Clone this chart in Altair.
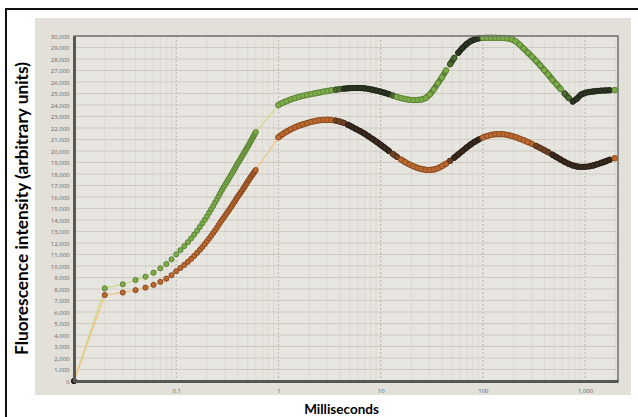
import altair as alt
import pandas as pd

# ---- sampling times (ms) ----
t_origin = [0.01]
t_ramp = [0.02, 0.03, 0.04, 0.05, 0.06, 0.07, 0.08, 0.09, 0.10,
          0.11, 0.12, 0.13, 0.14, 0.15, 0.16, 0.17, 0.18,
          0.19, 0.20, 0.21, 0.22, 0.23, 0.24, 0.25, 0.26, 0.27, 0.28,
          0.29, 0.30, 0.31, 0.32, 0.33, 0.34, 0.35, 0.36, 0.37, 0.38, 0.39, 0.40,
          0.41, 0.42, 0.43, 0.44, 0.45, 0.46, 0.47, 0.48, 0.49, 0.50,
          0.51, 0.52, 0.53, 0.54, 0.55, 0.56, 0.57, 0.58, 0.59, 0.60]
t_dense = [1.0, 1.096, 1.202, 1.318, 1.445, 1.585, 1.738, 1.905, 2.089, 2.291,
           2.512, 2.754, 3.02, 3.311, 3.631, 3.981, 4.365, 4.786, 5.248, 5.754,
           6.31, 6.918, 7.586, 8.318, 9.12, 10.0, 10.96, 12.02, 13.18, 14.45,
           15.85, 17.38, 19.05, 20.89, 22.91, 25.12, 27.54, 30.2, 33.11, 36.31,
           39.81, 43.65, 47.86, 52.48, 57.54, 63.1, 69.18, 75.86, 83.18, 91.2,
           100.0, 109.6, 120.2, 131.8, 144.5, 158.5, 173.8, 190.5, 208.9, 229.1,
           251.2, 275.4, 302.0, 331.1, 363.1, 398.1, 436.5, 478.6, 524.8, 575.4,
           631.0, 691.8, 758.6, 831.8, 912.0, 1000.0, 1096.0, 1202.0, 1318.0, 1445.0,
           1585.0, 1738.0, 1950.0]

# ---- fluorescence intensity (arbitrary units) ----
origin_value = [0]
green_ramp = [8060, 8410, 8780, 9070, 9420, 9800, 10170, 10580, 11020,
              11380, 11730, 12070, 12400, 12730, 13060, 13390, 13710,
              14020, 14330, 14640, 14940, 15230, 15520, 15800, 16070, 16340, 16610,
              16830, 17040, 17250, 17450, 17650, 17840, 18030, 18220, 18400, 18580, 18760, 18930,
              19080, 19230, 19380, 19530, 19680, 19820, 19960, 20100, 20240, 20370,
              20500, 20630, 20760, 20890, 21020, 21150, 21280, 21400, 21520, 21650]
orange_ramp = [7480, 7690, 7900, 8120, 8360, 8620, 8900, 9200, 9550,
               9830, 10100, 10360, 10620, 10880, 11140, 11400, 11650,
               11900, 12150, 12390, 12630, 12870, 13100, 13330, 13560, 13780, 14000,
               14180, 14360, 14540, 14720, 14890, 15060, 15230, 15400, 15560, 15720, 15880, 16030,
               16160, 16290, 16420, 16550, 16680, 16810, 16940, 17070, 17200, 17330,
               17440, 17550, 17660, 17770, 17870, 17970, 18070, 18170, 18260, 18350]
green_dense = [24000, 24180, 24340, 24480, 24600, 24710, 24800, 24880, 24950, 25020,
               25090, 25160, 25220, 25280, 25330, 25380, 25420, 25450, 25470, 25480,
               25470, 25450, 25400, 25330, 25250, 25160, 25060, 24950, 24820, 24700,
               24600, 24520, 24460, 24430, 24430, 24480, 24600, 24900, 25350, 25900,
               26400, 27000, 27550, 28100, 28550, 28950, 29300, 29550, 29700, 29800,
               29830, 29840, 29840, 29840, 29830, 29820, 29800, 29720, 29550, 29250,
               28900, 28550, 28200, 27850, 27450, 27050, 26650, 26200, 25800, 25400,
               25000, 24600, 24300, 24550, 24900, 25050, 25130, 25180, 25220, 25250,
               25270, 25290, 25300]
orange_dense = [21200, 21450, 21680, 21880, 22050, 22200, 22320, 22430, 22530, 22610,
                22670, 22700, 22710, 22690, 22640, 22560, 22440, 22280, 22100, 21910,
                21720, 21520, 21290, 21050, 20800, 20540, 20280, 20010, 19740, 19490,
                19250, 19030, 18840, 18670, 18530, 18430, 18370, 18350, 18390, 18500,
                18680, 18900, 19150, 19420, 19710, 20000, 20290, 20560, 20800, 21000,
                21170, 21300, 21400, 21460, 21480, 21460, 21400, 21310, 21200, 21070,
                20930, 20780, 20620, 20450, 20270, 20080, 19890, 19680, 19470, 19260,
                19060, 18880, 18740, 18650, 18610, 18620, 18660, 18740, 18850, 18970,
                19100, 19240, 19370]

# time spans (ms) where each trace is shaded darker: (start, end, level)
green_shade = [(0.009, 0.011, 2), (3.6, 4.3, 1), (4.3, 12.5, 2), (12.5, 13.5, 1),
               (47, 55, 1), (55, 92, 2), (600, 700, 1), (700, 1900, 2)]
orange_shade = [(0.009, 0.011, 2), (3.6, 4.6, 1), (4.6, 13.0, 2), (13.0, 14.5, 1),
                (45, 52, 1), (52, 92, 2), (330, 450, 1), (450, 1900, 2)]

# axis ticks
y_ticks = list(range(0, 30001, 1000))
x_major = [0.1, 1, 10, 100, 1000]
x_minor = [m * 10 ** e for e in range(-2, 4) for m in range(2, 10) if m * 10 ** e <= 2100]


def shade_level(t, spans):
    for a, b, lvl in spans:
        if a <= t <= b:
            return lvl
    return 0


rows = []
times = t_origin + t_ramp + t_dense
for name, vals, spans in [("green", origin_value + green_ramp + green_dense, green_shade),
                          ("orange", origin_value + orange_ramp + orange_dense, orange_shade)]:
    run, prev = 0, None
    for t, v in zip(times, vals):
        tone = f"{name}{shade_level(t, spans)}"
        if tone != prev:
            run += 1
            prev = tone
        rows.append({"t": t, "v": v, "series": name, "tone": tone, "run": f"{name}-{run}"})
df = pd.DataFrame(rows)

tone_keys = ["green0", "green1", "green2", "orange0", "orange1", "orange2"]
tone_fill = ["#7dad48", "#4d6b30", "#2c3522", "#bb692e", "#6f4426", "#3a2a1e"]
tone_edge = ["#5a8236", "#364d22", "#1e2418", "#8a4a20", "#50301a", "#281c14"]

W, H = 544, 345
xscale = alt.Scale(type="log", domain=[0.01, 2100], nice=False)
yscale = alt.Scale(domain=[0, 30000], nice=False, zero=True)

xaxis = alt.Axis(values=x_major, format=",", title="Milliseconds",
                 titleFont="Lato", titleFontSize=13.5, titleFontWeight="bold",
                 titleColor="#000000", titleX=267, titleY=32,
                 titleAlign="center", titleBaseline="alphabetic",
                 labelFont="Open Sans", labelFontSize=6, labelColor="#666666",
                 labelPadding=6, ticks=False, grid=False,
                 domainColor="#575757", domainWidth=3, zindex=1)
yaxis = alt.Axis(values=y_ticks, format=",d", title="Fluorescence intensity (arbitrary units)",
                 titleFont="Lato", titleFontSize=17.3, titleFontWeight="bold",
                 titleColor="#000000", titleX=-47, titleY=172, titleAngle=-90,
                 titleAlign="center", titleBaseline="alphabetic",
                 labelFont="Open Sans", labelFontSize=6, labelColor="#666666",
                 labelPadding=5, ticks=False, grid=False,
                 domainColor="#575757", domainWidth=3, zindex=1)


def X(field):
    return alt.X(field, type="quantitative", scale=xscale, axis=xaxis)


def Y(field):
    return alt.Y(field, type="quantitative", scale=yscale, axis=yaxis)


one = pd.DataFrame({"k": [0]})

# framing panels
panel = alt.Chart(one).mark_rect(color="#e3e0da").encode(
    x=alt.value(-39), x2=alt.value(557), y=alt.value(-18), y2=alt.value(359))
plot_bg = alt.Chart(one).mark_rect(color="#e7e5e0").encode(
    x=alt.value(0), x2=alt.value(W), y=alt.value(0), y2=alt.value(H))

# gridlines
minor_grid = alt.Chart(pd.DataFrame({"t": x_minor})).mark_rule(
    color="#dcd8d2", strokeWidth=1).encode(x=X("t"))
major_grid = alt.Chart(pd.DataFrame({"t": x_major})).mark_rule(
    color="#b7b2aa", strokeWidth=1, strokeDash=[2, 2]).encode(x=X("t"))
h_grid = alt.Chart(pd.DataFrame({"v": y_ticks})).mark_rule(
    color="#cfcac2", strokeWidth=1).encode(y=Y("v"))


# thin connecting traces
def trace(name, color):
    return alt.Chart(df).transform_filter(alt.datum.series == name).mark_line(
        color=color, strokeWidth=1.3).encode(x=X("t"), y=Y("v"))


green_line = trace("green", "#cfdc8c")
orange_line = trace("orange", "#f2c384")

fill_enc = alt.Fill("tone:N", scale=alt.Scale(domain=tone_keys, range=tone_fill), legend=None)
edge_enc = alt.Stroke("tone:N", scale=alt.Scale(domain=tone_keys, range=tone_edge), legend=None)

# sparse early readings and the densely sampled later trace
early_pts = alt.Chart(df).transform_filter(alt.datum.t < 1).mark_circle(
    size=26, opacity=1, strokeWidth=1).encode(x=X("t"), y=Y("v"), fill=fill_enc, stroke=edge_enc)

# thick band under the dense samples so they read as a continuous stroke
dense_band = alt.Chart(df).transform_filter(alt.datum.t >= 1).mark_line(
    strokeWidth=6, strokeCap="round").encode(
    x=X("t"), y=Y("v"), detail="run:N", stroke=edge_enc)
late_pts = alt.Chart(df).transform_filter(alt.datum.t >= 1).mark_circle(
    size=30, opacity=1, strokeWidth=0.8).encode(x=X("t"), y=Y("v"), fill=fill_enc, stroke=edge_enc)

plot_border = alt.Chart(one).mark_rect(fillOpacity=0, stroke="#707070", strokeWidth=1.5).encode(
    x=alt.value(0), x2=alt.value(W), y=alt.value(0), y2=alt.value(H))
outer_frame = alt.Chart(one).mark_rect(fillOpacity=0, stroke="#111111", strokeWidth=2).encode(
    x=alt.value(-68), x2=alt.value(575), y=alt.value(-27), y2=alt.value(395))

chart = alt.layer(
    panel, plot_bg, minor_grid, major_grid, h_grid,
    green_line, orange_line, early_pts, dense_band, late_pts, plot_border, outer_frame
).properties(
    width=W, height=H,
    autosize=alt.AutoSizeParams(type="none"),
    padding={"left": 74, "top": 36, "right": 20, "bottom": 36},
    background="#ffffff",
).configure_view(stroke=None)

chart.save("out.html", embed_options={"renderer": "svg", "actions": False})
